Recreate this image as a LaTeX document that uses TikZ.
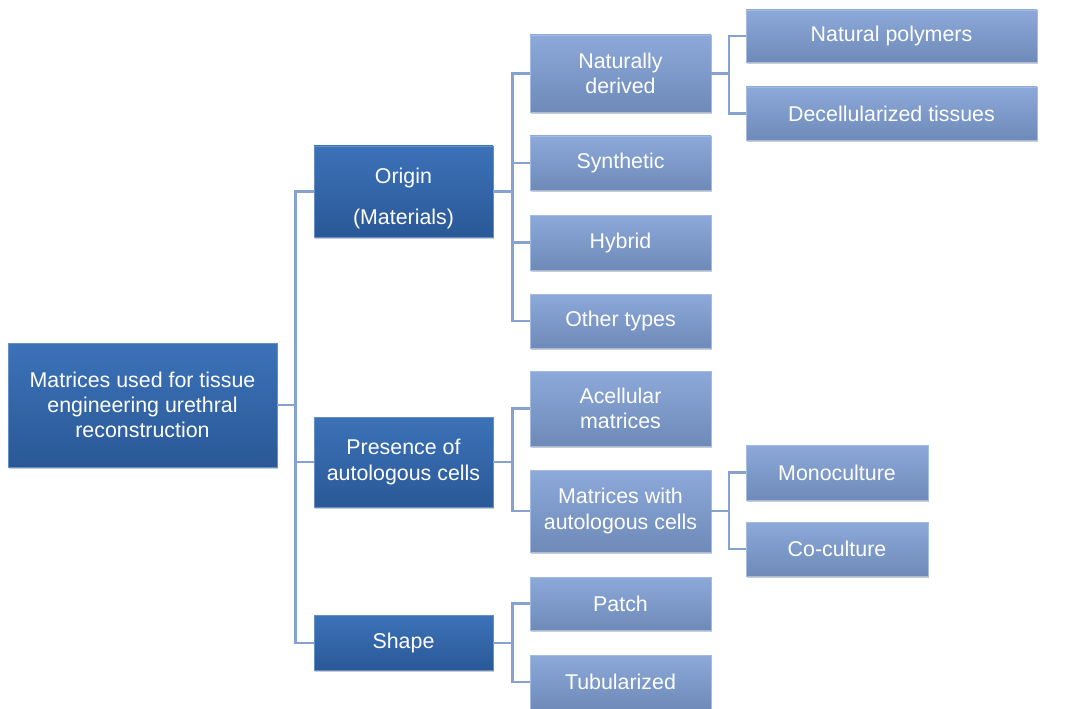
\documentclass[tikz,border=0pt]{standalone}
\usepackage{fontspec}
\setmainfont{Liberation Sans}
\usepackage{xcolor}
\usetikzlibrary{shadows}

\definecolor{darkbox}{HTML}{2F62A8}
\definecolor{darkboxtop}{HTML}{3C72B8}
\definecolor{lightbox}{HTML}{7896C9}
\definecolor{lightboxtop}{HTML}{8CA9D9}
\definecolor{linkblue}{HTML}{86A2CF}

\tikzset{
  darknode/.style={draw=darkboxtop!80!white, line width=0.6pt, top color=darkboxtop, bottom color=darkbox!90!black,
    text=white, align=center, inner sep=0pt, font=\fontsize{15.2}{18}\selectfont,
    drop shadow={shadow xshift=0.8pt, shadow yshift=-1.1pt, opacity=0.4}},
  lightnode/.style={draw=lightboxtop!80!white, line width=0.6pt, top color=lightboxtop, bottom color=lightbox!92!black,
    text=white, align=center, inner sep=0pt, font=\fontsize{15.2}{18}\selectfont,
    drop shadow={shadow xshift=0.8pt, shadow yshift=-1.1pt, opacity=0.4}},
  link/.style={linkblue, line width=2pt}
}

\begin{document}
\begin{tikzpicture}[x=0.025cm,y=-0.025cm]
\useasboundingbox (0,0) rectangle (1077,709);
% root
\node[darknode, minimum width=269*0.025cm, minimum height=124*0.025cm] (root) at (142.5,405)
  {Matrices used for tissue\\engineering urethral\\reconstruction};
% first level
\node[darknode, minimum width=179*0.025cm, minimum height=91*0.025cm] (origin) at (403.5,191.5)
  {\rule{0pt}{0.75cm}Origin\\[0.4cm](Materials)};
\node[darknode, minimum width=179*0.025cm, minimum height=90*0.025cm] (cells) at (403.5,462)
  {Presence of\\autologous cells};
\node[darknode, minimum width=179*0.025cm, minimum height=55*0.025cm] (shape) at (403.5,643)
  {Shape};
% second level
\node[lightnode, minimum width=181*0.025cm, minimum height=77*0.025cm] (natural) at (620.5,73.5)
  {Naturally\\derived};
\node[lightnode, minimum width=181*0.025cm, minimum height=54*0.025cm] (synthetic) at (620.5,163)
  {Synthetic};
\node[lightnode, minimum width=181*0.025cm, minimum height=55*0.025cm] (hybrid) at (620.5,242.5)
  {Hybrid};
\node[lightnode, minimum width=181*0.025cm, minimum height=54*0.025cm] (other) at (620.5,321)
  {Other types};
\node[lightnode, minimum width=181*0.025cm, minimum height=75*0.025cm] (acellular) at (620.5,408.5)
  {Acellular\\matrices};
\node[lightnode, minimum width=181*0.025cm, minimum height=82*0.025cm] (withcells) at (620.5,511)
  {Matrices with\\autologous cells};
\node[lightnode, minimum width=181*0.025cm, minimum height=53*0.025cm] (patch) at (620.5,603.5)
  {Patch};
\node[lightnode, minimum width=181*0.025cm, minimum height=54*0.025cm] (tubular) at (620.5,682)
  {Tubularized};
% third level
\node[lightnode, minimum width=291*0.025cm, minimum height=52*0.025cm] (polymers) at (891.5,36)
  {Natural polymers};
\node[lightnode, minimum width=291*0.025cm, minimum height=53*0.025cm] (decell) at (891.5,113.5)
  {Decellularized tissues};
\node[lightnode, minimum width=182*0.025cm, minimum height=55*0.025cm] (mono) at (837,472.5)
  {Monoculture};
\node[lightnode, minimum width=182*0.025cm, minimum height=54*0.025cm] (cocult) at (837,549)
  {Co-culture};
% connectors
\foreach \child in {origin,cells,shape}
  \draw[link] (root.east) -- ++(18,0) |- (\child.west);
\foreach \child in {natural,synthetic,hybrid,other}
  \draw[link] (origin.east) -- ++(19,0) |- (\child.west);
\foreach \child in {acellular,withcells}
  \draw[link] (cells.east) -- ++(19,0) |- (\child.west);
\foreach \child in {patch,tubular}
  \draw[link] (shape.east) -- ++(19,0) |- (\child.west);
\foreach \child in {polymers,decell}
  \draw[link] (natural.east) -- ++(17.5,0) |- (\child.west);
\foreach \child in {mono,cocult}
  \draw[link] (withcells.east) -- ++(17.5,0) |- (\child.west);
\end{tikzpicture}
\end{document}
